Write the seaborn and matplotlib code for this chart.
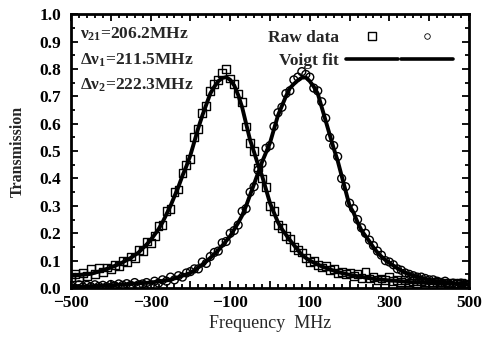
import matplotlib
matplotlib.use("Agg")
import matplotlib.pyplot as plt
from matplotlib.lines import Line2D
from matplotlib.legend_handler import HandlerTuple
from matplotlib.ticker import MultipleLocator, FuncFormatter
import seaborn as sns
import pandas as pd

# Frequency detuning of the scan (MHz)
freq_mhz = [
    -500, -490, -480, -470, -460, -450, -440, -430, -420, -410,
    -400, -390, -380, -370, -360, -350, -340, -330, -320, -310,
    -300, -290, -280, -270, -260, -250, -240, -230, -220, -210,
    -200, -190, -180, -170, -160, -150, -140, -130, -120, -110,
    -100, -90, -80, -70, -60, -50, -40, -30, -20, -10,
    0, 10, 20, 30, 40, 50, 60, 70, 80, 90,
    100, 110, 120, 130, 140, 150, 160, 170, 180, 190,
    200, 210, 220, 230, 240, 250, 260, 270, 280, 290,
    300, 310, 320, 330, 340, 350, 360, 370, 380, 390,
    400, 410, 420, 430, 440, 450, 460, 470, 480, 490, 500,
]

# Measured transmission, line 1 (squares)
raw_line1 = [
    0.040, 0.050, 0.040, 0.055, 0.045, 0.070, 0.050, 0.072, 0.060, 0.075,
    0.070, 0.085, 0.080, 0.100, 0.095, 0.115, 0.110, 0.140, 0.135, 0.170,
    0.165, 0.190, 0.225, 0.230, 0.280, 0.290, 0.350, 0.360, 0.420, 0.450,
    0.470, 0.550, 0.580, 0.640, 0.665, 0.720, 0.745, 0.760, 0.785, 0.800,
    0.765, 0.745, 0.710, 0.680, 0.590, 0.530, 0.500, 0.440, 0.400, 0.370,
    0.300, 0.280, 0.230, 0.220, 0.190, 0.180, 0.150, 0.140, 0.130, 0.110,
    0.095, 0.100, 0.085, 0.075, 0.080, 0.065, 0.070, 0.055, 0.060, 0.050,
    0.055, 0.045, 0.050, 0.038, 0.060, 0.035, 0.040, 0.030, 0.035, 0.028,
    0.040, 0.025, 0.030, 0.022, 0.030, 0.020, 0.025, 0.018, 0.025, 0.020,
    0.020, 0.015, 0.022, 0.015, 0.020, 0.012, 0.018, 0.015, 0.020, 0.012, 0.015,
]

# Measured transmission, line 2 (circles)
raw_line2 = [
    0.010, 0.000, 0.012, 0.004, 0.010, 0.005, 0.012, 0.006, 0.010, 0.005,
    0.013, 0.008, 0.015, 0.010, 0.016, 0.010, 0.020, 0.012, 0.015, 0.020,
    0.012, 0.025, 0.018, 0.030, 0.025, 0.040, 0.030, 0.045, 0.040, 0.055,
    0.060, 0.070, 0.070, 0.095, 0.090, 0.115, 0.130, 0.135, 0.165, 0.170,
    0.200, 0.210, 0.230, 0.280, 0.290, 0.350, 0.370, 0.430, 0.455, 0.510,
    0.520, 0.590, 0.640, 0.660, 0.710, 0.720, 0.760, 0.770, 0.790, 0.780,
    0.770, 0.730, 0.720, 0.680, 0.620, 0.550, 0.520, 0.480, 0.400, 0.370,
    0.310, 0.290, 0.250, 0.220, 0.200, 0.175, 0.155, 0.135, 0.120, 0.100,
    0.095, 0.085, 0.070, 0.065, 0.055, 0.050, 0.045, 0.040, 0.040, 0.035,
    0.030, 0.030, 0.025, 0.020, 0.025, 0.015, 0.018, 0.015, 0.018, 0.015, 0.012,
]

# Voigt profile fits evaluated on the same frequency grid
fit_line1 = [
    0.045, 0.046, 0.047, 0.049, 0.050, 0.052, 0.056, 0.060, 0.065, 0.070,
    0.075, 0.081, 0.087, 0.094, 0.102, 0.110, 0.120, 0.130, 0.145, 0.159,
    0.175, 0.195, 0.215, 0.240, 0.270, 0.300, 0.335, 0.370, 0.410, 0.445,
    0.485, 0.535, 0.585, 0.630, 0.670, 0.710, 0.735, 0.755, 0.767, 0.770,
    0.760, 0.740, 0.705, 0.660, 0.600, 0.540, 0.496, 0.450, 0.410, 0.360,
    0.310, 0.275, 0.240, 0.215, 0.195, 0.175, 0.157, 0.139, 0.121, 0.110,
    0.100, 0.093, 0.086, 0.079, 0.074, 0.068, 0.064, 0.059, 0.055, 0.052,
    0.048, 0.046, 0.043, 0.041, 0.038, 0.036, 0.034, 0.032, 0.031, 0.029,
    0.028, 0.027, 0.026, 0.025, 0.023, 0.022, 0.021, 0.020, 0.020, 0.019,
    0.018, 0.018, 0.017, 0.017, 0.016, 0.016, 0.016, 0.015, 0.015, 0.015, 0.014,
]

fit_line2 = [
    0.005, 0.005, 0.006, 0.006, 0.007, 0.007, 0.008, 0.008, 0.009, 0.009,
    0.010, 0.011, 0.012, 0.013, 0.014, 0.015, 0.016, 0.017, 0.018, 0.019,
    0.020, 0.022, 0.024, 0.026, 0.028, 0.030, 0.035, 0.040, 0.045, 0.050,
    0.055, 0.065, 0.075, 0.086, 0.097, 0.110, 0.124, 0.138, 0.155, 0.172,
    0.190, 0.214, 0.238, 0.265, 0.300, 0.340, 0.380, 0.420, 0.460, 0.495,
    0.530, 0.580, 0.630, 0.665, 0.700, 0.730, 0.745, 0.758, 0.768, 0.769,
    0.755, 0.735, 0.710, 0.660, 0.610, 0.560, 0.510, 0.465, 0.410, 0.355,
    0.300, 0.275, 0.240, 0.210, 0.190, 0.170, 0.148, 0.130, 0.115, 0.102,
    0.092, 0.082, 0.072, 0.064, 0.056, 0.050, 0.046, 0.042, 0.038, 0.034,
    0.031, 0.028, 0.024, 0.022, 0.020, 0.018, 0.017, 0.016, 0.015, 0.014, 0.013,
]

fit_labels = [r"$\nu_{21}$=206.2MHz", r"$\Delta\nu_1$=211.5MHz", r"$\Delta\nu_2$=222.3MHz"]

raw = pd.DataFrame({
    "freq": freq_mhz * 2,
    "T": raw_line1 + raw_line2,
    "line": ["1"] * len(freq_mhz) + ["2"] * len(freq_mhz),
})
fit = pd.DataFrame({
    "freq": freq_mhz * 2,
    "T": fit_line1 + fit_line2,
    "line": ["1"] * len(freq_mhz) + ["2"] * len(freq_mhz),
})

sns.set_theme(style="ticks")
plt.rcParams["font.family"] = ["Liberation Serif", "DejaVu Serif"]
plt.rcParams["mathtext.fontset"] = "custom"
plt.rcParams["mathtext.rm"] = "Liberation Serif:bold"
plt.rcParams["mathtext.it"] = "Liberation Serif:bold"
plt.rcParams["mathtext.bf"] = "Liberation Serif:bold"
plt.rcParams["axes.unicode_minus"] = True

fig = plt.figure(figsize=(4.83, 3.53), dpi=100)
ax = fig.add_axes([0.147, 0.184, 0.824, 0.776])

sns.scatterplot(data=raw, x="freq", y="T", style="line", markers={"1": "s", "2": "o"},
                s=32, facecolor="none", edgecolor="black", linewidth=1.0,
                color="black", legend=False, ax=ax, zorder=2)
sns.lineplot(data=fit, x="freq", y="T", units="line", estimator=None,
             color="black", linewidth=2.8, legend=False, ax=ax, zorder=3)

ax.set_xlim(-500, 500)
ax.set_ylim(0.0, 1.0)
ax.xaxis.set_major_locator(MultipleLocator(100))
ax.xaxis.set_minor_locator(MultipleLocator(20))


def freq_label(v, p):
    n = int(round(v))
    if n % 200 == 0:
        return ""
    return f"\u2212{abs(n)}" if n < 0 else f"{n}"


ax.xaxis.set_major_formatter(FuncFormatter(freq_label))
ax.yaxis.set_major_locator(MultipleLocator(0.1))
ax.yaxis.set_minor_locator(MultipleLocator(0.05))
ax.yaxis.set_major_formatter(FuncFormatter(lambda v, p: f"{v:.1f}"))

ax.tick_params(which="both", direction="in", top=True, right=True, width=1.3, colors="black")
ax.tick_params(which="major", length=5)
ax.tick_params(which="minor", length=3)
ax.tick_params(axis="y", labelsize=12.5, pad=7)
ax.tick_params(axis="x", labelsize=12.5, pad=5)
for lab in ax.get_xticklabels() + ax.get_yticklabels():
    lab.set_fontweight("bold")
for sp in ax.spines.values():
    sp.set_linewidth(2.0)
    sp.set_color("black")

ax.set_xlabel("Frequency  MHz", fontsize=13, labelpad=3)
ax.set_ylabel("Transmission", fontsize=11.5, fontweight="bold", labelpad=10)

for i, t in enumerate(fit_labels):
    ax.text(0.022, 0.925 - i * 0.093, t, transform=ax.transAxes, fontsize=12.5,
            fontweight="bold", va="center", ha="left")

h_sq = Line2D([], [], marker="s", ls="none", mfc="none", mec="black", ms=5.5, mew=1.0)
h_ci = Line2D([], [], marker="o", ls="none", mfc="none", mec="black", ms=4, mew=0.6)
h_l1 = Line2D([], [], color="black", lw=2.6)
h_l2 = Line2D([], [], color="black", lw=2.6)
leg = ax.legend([(h_sq, h_ci), (h_l1, h_l2)], ["Raw data", "Voigt fit"],
                handler_map={tuple: HandlerTuple(ndivide=None, pad=0.15)},
                loc="upper right", frameon=False, markerfirst=False,
                handlelength=6.2, handletextpad=0.4, labelspacing=0.4,
                borderaxespad=0.5, prop={"family": "Liberation Serif", "weight": "bold", "size": 12.5})

fig.savefig("out.png", dpi=100)
